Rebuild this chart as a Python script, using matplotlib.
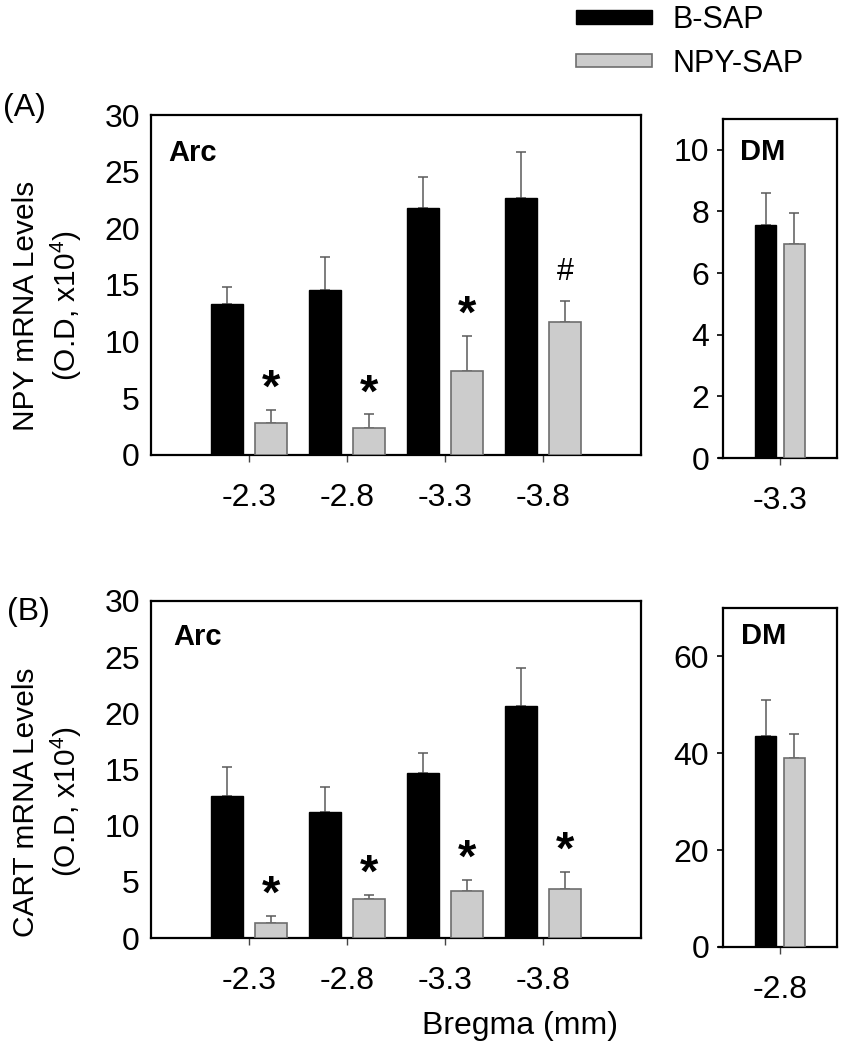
import matplotlib
matplotlib.use("Agg")
import matplotlib.pyplot as plt
from matplotlib.patches import Patch
import numpy as np

plt.rcParams['font.family'] = ['Liberation Sans', 'DejaVu Sans']
plt.rcParams['mathtext.fontset'] = 'custom'
plt.rcParams['mathtext.rm'] = 'Liberation Sans'
plt.rcParams['mathtext.it'] = 'Liberation Sans'

# ---------------- data ----------------
bregma = ['-2.3', '-2.8', '-3.3', '-3.8']
series = ['B-SAP', 'NPY-SAP']

npy_arc_bsap = [13.3, 14.55, 21.8, 22.7]
npy_arc_bsap_err = [1.5, 2.9, 2.7, 4.0]
npy_arc_npysap = [2.85, 2.4, 7.4, 11.7]
npy_arc_npysap_err = [1.15, 1.2, 3.1, 1.85]
npy_arc_marks = ['*', '*', '*', '#']

npy_dm_bregma = ['-3.3']
npy_dm_bsap = [7.55]
npy_dm_bsap_err = [1.05]
npy_dm_npysap = [6.95]
npy_dm_npysap_err = [1.0]

cart_arc_bsap = [12.6, 11.25, 14.7, 20.65]
cart_arc_bsap_err = [2.6, 2.15, 1.8, 3.4]
cart_arc_npysap = [1.3, 3.5, 4.2, 4.4]
cart_arc_npysap_err = [0.7, 0.35, 1.0, 1.5]
cart_arc_marks = ['*', '*', '*', '*']

cart_dm_bregma = ['-2.8']
cart_dm_bsap = [43.5]
cart_dm_bsap_err = [7.6]
cart_dm_npysap = [39.0]
cart_dm_npysap_err = [5.0]

# ---------------- style ----------------
BLACK = '#000000'
GRAY = '#cccccc'
GRAY_EDGE = '#6e6e6e'
ERR = '#5a5a5a'
FS = 23

W, H = 845, 1050
fig = plt.figure(figsize=(W / 100, H / 100), dpi=100)


def fr(x0, y0, x1, y1):
    return [x0 / W, 1 - y1 / H, (x1 - x0) / W, (y1 - y0) / H]


def draw(ax, cats, b, be, g, ge, ylim, yticks, width, off, main):
    x = np.arange(len(cats))
    ax.bar(x - off, b, width, color=BLACK, edgecolor=BLACK, linewidth=1, zorder=3)
    ax.bar(x + off, g, width, color=GRAY, edgecolor=GRAY_EDGE, linewidth=1.2, zorder=3)
    for xs, v, e in ((x - off, b, be), (x + off, g, ge)):
        ax.errorbar(xs, v, yerr=[np.zeros(len(v)), e], fmt='none', ecolor=ERR,
                    elinewidth=1.1, capsize=3.5, capthick=1.1, zorder=2)
    ax.set_ylim(*ylim)
    ax.set_yticks(yticks)
    ax.set_xticks(x)
    ax.set_xticklabels(cats)
    for s in ax.spines.values():
        s.set_linewidth(1.6)
    ax.tick_params(axis='x', direction='out', length=5, width=1, color='#444444',
                   pad=15, labelsize=FS)
    if main:
        ax.set_xlim(-1.0, len(cats))
        ax.tick_params(axis='y', length=0, pad=8, labelsize=FS)
    else:
        ax.set_xlim(-1, 1)
        ax.tick_params(axis='y', direction='out', length=4, width=1.2, pad=6, labelsize=FS)
        ax.plot([-0.045, 0], [0, 0], transform=ax.transAxes, color='k', lw=1.6,
                clip_on=False, solid_capstyle='butt')
    return x


# Panel A
axA = fig.add_axes(fr(151, 115, 641, 455))
x = draw(axA, bregma, npy_arc_bsap, npy_arc_bsap_err, npy_arc_npysap, npy_arc_npysap_err,
         (0, 30), range(0, 31, 5), 0.32, 0.225, True)
for xi, v, e, m in zip(x, npy_arc_npysap, npy_arc_npysap_err, npy_arc_marks):
    if m == '*':
        axA.text(xi + 0.225, v + e + 1.75, '*', ha='center', va='center', fontsize=34,
                 fontweight='bold')
    else:
        axA.text(xi + 0.225, v + e + 2.6, '#', ha='center', va='center', fontsize=22)
axA.text(0.035, 0.93, 'Arc', transform=axA.transAxes, ha='left', va='top',
         fontsize=21, fontweight='bold')

axA2 = fig.add_axes(fr(723, 119, 837, 458))
draw(axA2, npy_dm_bregma, npy_dm_bsap, npy_dm_bsap_err, npy_dm_npysap, npy_dm_npysap_err,
     (0, 11), range(0, 11, 2), 0.36, 0.25, False)
axA2.text(0.15, 0.945, 'DM', transform=axA2.transAxes, ha='left', va='top',
          fontsize=21, fontweight='bold')

# Panel B
axB = fig.add_axes(fr(151, 601, 641, 938))
x = draw(axB, bregma, cart_arc_bsap, cart_arc_bsap_err, cart_arc_npysap, cart_arc_npysap_err,
         (0, 30), range(0, 31, 5), 0.32, 0.225, True)
for xi, v, e, m in zip(x, cart_arc_npysap, cart_arc_npysap_err, cart_arc_marks):
    axB.text(xi + 0.225, v + e + 1.75, m, ha='center', va='center', fontsize=34,
             fontweight='bold')
axB.text(0.045, 0.935, 'Arc', transform=axB.transAxes, ha='left', va='top',
         fontsize=21, fontweight='bold')

axB2 = fig.add_axes(fr(723, 608, 837, 947))
draw(axB2, cart_dm_bregma, cart_dm_bsap, cart_dm_bsap_err, cart_dm_npysap, cart_dm_npysap_err,
     (0, 70), range(0, 61, 20), 0.36, 0.25, False)
axB2.text(0.16, 0.96, 'DM', transform=axB2.transAxes, ha='left', va='top',
          fontsize=21, fontweight='bold')

# y labels
fig.text(48 / W, 1 - 306 / H, 'NPY mRNA Levels\n(O.D, x10$^{4}$)', rotation=90,
         ha='center', va='center', multialignment='center', fontsize=21.5, linespacing=1.3)
fig.text(48 / W, 1 - 802 / H, 'CART mRNA Levels\n(O.D, x10$^{4}$)', rotation=90,
         ha='center', va='center', multialignment='center', fontsize=21.5, linespacing=1.3)

# panel letters
fig.text(24 / W, 1 - 108 / H, '(A)', ha='center', va='center', fontsize=FS)
fig.text(28 / W, 1 - 612 / H, '(B)', ha='center', va='center', fontsize=FS)

# x label
fig.text(520 / W, 1 - 1026 / H, 'Bregma (mm)', ha='center', va='center', fontsize=FS)

# legend
handles = [Patch(facecolor=BLACK, edgecolor=BLACK, linewidth=1),
           Patch(facecolor=GRAY, edgecolor=GRAY_EDGE, linewidth=1.2)]
fig.legend(handles, series, loc='upper left', bbox_to_anchor=(576 / W, 1 - 5 / H),
           frameon=False, fontsize=22, handlelength=2.5, handleheight=0.28,
           handletextpad=0.65, labelspacing=0.45, borderpad=0, borderaxespad=0)

fig.savefig('out.png', dpi=100)
